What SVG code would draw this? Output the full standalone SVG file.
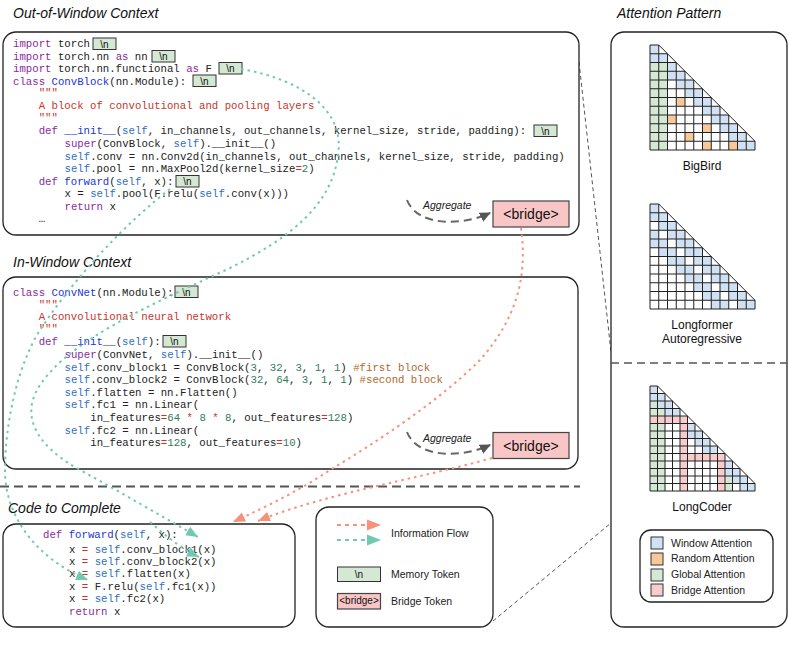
<svg xmlns="http://www.w3.org/2000/svg" xmlns:xlink="http://www.w3.org/1999/xlink" width="789" height="645" viewBox="0 0 789 645">
<style>
.c{font-family:"Liberation Mono",monospace;font-size:10.7px;fill:#222}
.k{fill:#8a2a9c}.f{fill:#2035d8}.s{fill:#2f6fc0}.t{fill:#c8342c}.n{fill:#2e7d5a}.m{fill:#b0682c}.o{fill:#c8342c}
.ttl{font-family:"Liberation Sans",Arial,sans-serif;font-style:italic;font-size:14px;fill:#111}
.lab{font-family:"Liberation Sans",Arial,sans-serif;font-size:12px;fill:#111}
.sm{font-family:"Liberation Sans",Arial,sans-serif;font-size:10.5px;fill:#222}
.box{fill:#fff;stroke:#222;stroke-width:1.3}
.tok{fill:#d5e8d4;stroke:#333;stroke-width:1}
.tokt{font-family:"Liberation Sans",Arial,sans-serif;font-size:10px;fill:#111;text-anchor:middle}
.br{fill:#f8c6c6;stroke:#444;stroke-width:1.2}
.brt{font-family:"Liberation Sans",Arial,sans-serif;font-size:14px;fill:#111;text-anchor:middle}
.agg{fill:none;stroke:#666;stroke-width:2;stroke-dasharray:8 5}
.tl{fill:none;stroke:#72c9b0;stroke-width:2;stroke-dasharray:2.5 4}
.sl{fill:none;stroke:#f7917b;stroke-width:2;stroke-dasharray:2.5 4}
.gl{fill:none;stroke:#222;vector-effect:non-scaling-stroke;stroke-width:1}
.cb{fill:#d0e1f4}.co{fill:#f9c898}.cg{fill:#d5e8d4}.cp{fill:#f8cccc}
</style>
<defs>
<marker id="at" markerUnits="userSpaceOnUse" markerWidth="13" markerHeight="11" refX="12" refY="5" orient="auto"><path d="M0,0 L12,5 L0,10 z" fill="#72c9b0"/></marker>
<marker id="as" markerUnits="userSpaceOnUse" markerWidth="13" markerHeight="11" refX="12" refY="5" orient="auto"><path d="M0,0 L12,5 L0,10 z" fill="#f7917b"/></marker>
<marker id="ag" markerUnits="userSpaceOnUse" markerWidth="12" markerHeight="10" refX="10" refY="5" orient="auto"><path d="M0,0 L11,5 L0,10 z" fill="#555"/></marker>
<path id="g12" class="gl" d="M0 0H1M0 1H2M0 2H3M0 3H4M0 4H5M0 5H6M0 6H7M0 7H8M0 8H9M0 9H10M0 10H11M0 11H12M0 12H12M0 0V12M1 0V12M2 1V12M3 2V12M4 3V12M5 4V12M6 5V12M7 6V12M8 7V12M9 8V12M10 9V12M11 10V12M12 11V12M1 0L12 11"/>
<path id="g14" class="gl" d="M0 0H1M0 1H2M0 2H3M0 3H4M0 4H5M0 5H6M0 6H7M0 7H8M0 8H9M0 9H10M0 10H11M0 11H12M0 12H13M0 13H14M0 14H14M0 0V14M1 0V14M2 1V14M3 2V14M4 3V14M5 4V14M6 5V14M7 6V14M8 7V14M9 8V14M10 9V14M11 10V14M12 11V14M13 12V14M14 13V14M1 0L14 13"/>
</defs>
<rect width="789" height="645" fill="#fff"/>

<!-- titles -->
<text class="ttl" x="13" y="18">Out-of-Window Context</text>
<text class="ttl" x="13" y="267">In-Window Context</text>
<text class="ttl" x="8" y="513">Code to Complete</text>
<text class="ttl" x="617" y="18">Attention Pattern</text>

<!-- separators -->
<path d="M0 486.5H580" fill="none" stroke="#555" stroke-width="2" stroke-dasharray="9 5"/>
<path d="M579 62L611 352" fill="none" stroke="#555" stroke-width="1" stroke-dasharray="4 3"/>
<path d="M493 621L611 523" fill="none" stroke="#555" stroke-width="1" stroke-dasharray="4 3"/>

<g id="out-window">
<rect class="box" x="3" y="32" width="576" height="203" rx="13"/>
<text class="c" x="13" y="47"><tspan class="k">import</tspan> torch</text>
<text class="c" x="13" y="59.5"><tspan class="k">import</tspan> torch.nn <tspan class="k">as</tspan> nn</text>
<text class="c" x="13" y="72"><tspan class="k">import</tspan> torch.nn.functional <tspan class="k">as</tspan> F</text>
<text class="c" x="13" y="84.5"><tspan class="k">class</tspan> <tspan class="f">ConvBlock</tspan>(nn.Module):</text>
<text class="c t" x="38.7" y="96">"""</text>
<text class="c t" x="38.7" y="108.5">A block of convolutional and pooling layers</text>
<text class="c t" x="38.7" y="120.5">"""</text>
<text class="c" x="38.7" y="133.5"><tspan class="k">def</tspan> <tspan class="f">__init__</tspan>(<tspan class="s">self</tspan>, in_channels, out_channels, kernel_size, stride, padding):</text>
<text class="c" x="64.5" y="147"><tspan class="k">super</tspan>(ConvBlock, <tspan class="s">self</tspan>).__init__()</text>
<text class="c" x="64.5" y="159.5"><tspan class="s">self</tspan>.conv = nn.Conv2d(in_channels, out_channels, kernel_size, stride, padding)</text>
<text class="c" x="64.5" y="171.5"><tspan class="s">self</tspan>.pool = nn.MaxPool2d(kernel_size<tspan class="o">=</tspan><tspan class="n">2</tspan>)</text>
<text class="c" x="38.7" y="184.5"><tspan class="k">def</tspan> <tspan class="f">forward</tspan>(<tspan class="s">self</tspan>, x):</text>
<text class="c" x="64.5" y="197"><tspan>x = </tspan><tspan class="s">self</tspan>.pool(F.relu(<tspan class="s">self</tspan>.conv(x)))</text>
<text class="c" x="64.5" y="209.5"><tspan class="k">return</tspan> x</text>
<text class="c" x="38.7" y="222">…</text>
<rect class="tok" x="93" y="38" width="23" height="11.5"/><text class="tokt" x="104.5" y="47.5">\n</text>
<rect class="tok" x="152" y="50.5" width="23" height="11.5"/><text class="tokt" x="163.5" y="60">\n</text>
<rect class="tok" x="219" y="62.5" width="23" height="11.5"/><text class="tokt" x="230.5" y="72">\n</text>
<rect class="tok" x="193" y="75" width="23" height="11.5"/><text class="tokt" x="204.5" y="84.5">\n</text>
<rect class="tok" x="534" y="125" width="23" height="11.5"/><text class="tokt" x="545.5" y="134.5">\n</text>
<rect class="tok" x="176" y="175.5" width="23" height="11.5"/><text class="tokt" x="187.5" y="185">\n</text>
<rect class="br" x="493" y="201" width="76" height="26"/><text class="brt" x="531" y="219">&lt;bridge&gt;</text>
<text class="sm" x="423" y="209" font-style="italic" font-size="11">Aggregate</text>
</g>

<g id="in-window">
<rect class="box" x="3" y="277" width="575" height="192" rx="13"/>
<text class="c" x="13" y="295.5"><tspan class="k">class</tspan> <tspan class="f">ConvNet</tspan>(nn.Module):</text>
<text class="c t" x="38.7" y="307.5">"""</text>
<text class="c t" x="38.7" y="319.5">A convolutional neural network</text>
<text class="c t" x="38.7" y="331.5">"""</text>
<text class="c" x="38.7" y="344.5"><tspan class="k">def</tspan> <tspan class="f">__init__</tspan>(<tspan class="s">self</tspan>):</text>
<text class="c" x="64.5" y="357.5"><tspan class="k">super</tspan>(ConvNet, <tspan class="s">self</tspan>).__init__()</text>
<text class="c" x="64.5" y="370.5"><tspan class="s">self</tspan>.conv_block1 = ConvBlock(<tspan class="n">3</tspan>, <tspan class="n">32</tspan>, <tspan class="n">3</tspan>, <tspan class="n">1</tspan>, <tspan class="n">1</tspan>) <tspan class="m">#first block</tspan></text>
<text class="c" x="64.5" y="383"><tspan class="s">self</tspan>.conv_block2 = ConvBlock(<tspan class="n">32</tspan>, <tspan class="n">64</tspan>, <tspan class="n">3</tspan>, <tspan class="n">1</tspan>, <tspan class="n">1</tspan>) <tspan class="m">#second block</tspan></text>
<text class="c" x="64.5" y="396"><tspan class="s">self</tspan>.flatten = nn.Flatten()</text>
<text class="c" x="64.5" y="408"><tspan class="s">self</tspan>.fc1 = nn.Linear(</text>
<text class="c" x="90.3" y="420.5">in_features<tspan class="o">=</tspan><tspan class="n">64</tspan> <tspan class="o">*</tspan> <tspan class="n">8</tspan> <tspan class="o">*</tspan> <tspan class="n">8</tspan>, out_features<tspan class="o">=</tspan><tspan class="n">128</tspan>)</text>
<text class="c" x="64.5" y="433.5"><tspan class="s">self</tspan>.fc2 = nn.Linear(</text>
<text class="c" x="90.3" y="445.5">in_features<tspan class="o">=</tspan><tspan class="n">128</tspan>, out_features<tspan class="o">=</tspan><tspan class="n">10</tspan>)</text>
<rect class="tok" x="175" y="286" width="23" height="11.5"/><text class="tokt" x="186.5" y="295.5">\n</text>
<rect class="tok" x="163" y="335.5" width="23" height="11.5"/><text class="tokt" x="174.5" y="345">\n</text>
<rect class="br" x="493" y="432.5" width="76" height="26"/><text class="brt" x="531" y="450.5">&lt;bridge&gt;</text>
<text class="sm" x="423" y="441.5" font-style="italic" font-size="11">Aggregate</text>
</g>

<g id="to-complete">
<rect class="box" x="3" y="524" width="292" height="103" rx="13"/>
<text class="c" x="43" y="538"><tspan class="k">def</tspan> <tspan class="f">forward</tspan>(<tspan class="s">self</tspan>, x):</text>
<text class="c" x="69" y="552.5">x <tspan class="o">=</tspan> <tspan class="s">self</tspan>.conv_block1(x)</text>
<text class="c" x="69" y="564.5">x <tspan class="o">=</tspan> <tspan class="s">self</tspan>.conv_block2(x)</text>
<text class="c" x="69" y="576.5">x <tspan class="o">=</tspan> <tspan class="s">self</tspan>.flatten(x)</text>
<text class="c" x="69" y="589.5">x <tspan class="o">=</tspan> F.relu(<tspan class="s">self</tspan>.fc1(x))</text>
<text class="c" x="69" y="602">x <tspan class="o">=</tspan> <tspan class="s">self</tspan>.fc2(x)</text>
<text class="c" x="69" y="614.5"><tspan class="k">return</tspan> x</text>
</g>

<g id="legend">
<rect class="box" x="316" y="507" width="177" height="120" rx="13"/>
<path d="M337 525H368" fill="none" stroke="#f7917b" stroke-width="2" stroke-dasharray="4 4"/>
<path d="M367 519.5L381 525L367 530.5z" fill="#f7917b"/>
<path d="M337 540H368" fill="none" stroke="#72c9b0" stroke-width="2" stroke-dasharray="4 4"/>
<path d="M367 534.5L381 540L367 545.5z" fill="#72c9b0"/>
<text class="sm" x="391" y="537">Information Flow</text>
<rect class="tok" x="337.5" y="567" width="43" height="14.5"/><text class="tokt" x="359" y="578">\n</text>
<text class="sm" x="391" y="578">Memory Token</text>
<rect class="br" x="337.5" y="593.5" width="43" height="15.5"/><text class="tokt" x="359" y="604" font-size="7.5">&lt;bridge&gt;</text>
<text class="sm" x="391" y="605">Bridge Token</text>
</g>

<g id="connectors">
<path class="agg" d="M407 200C418 228 465 225 490 213" marker-end="url(#ag)"/>
<path class="agg" d="M407 432C418 460 465 457 490 445" marker-end="url(#ag)"/>
<path class="tl" d="M241 69C305 80 345 112 338 155C332 205 290 238 230 268C150 305 70 340 40 385C20 415 35 445 80 470C120 492 160 515 198 537" marker-end="url(#at)"/>
<path class="tl" d="M170 189C130 220 80 270 40 330C15 370 5 430 5 470C5 520 40 560 88 580" marker-end="url(#at)"/>
<path class="tl" d="M150 522C165 535 180 548 199 557" marker-end="url(#at)"/>
<path class="sl" d="M521 228C528 280 515 320 480 360C440 400 380 440 330 470C300 490 270 505 233 522" marker-end="url(#as)"/>
<path class="sl" d="M492 458C450 470 400 480 340 495C310 503 285 510 258 521" marker-end="url(#as)"/>
</g>

<g id="attention-panel">
<rect class="box" x="611" y="32" width="176" height="595" rx="13"/>
<path d="M611 363H787" fill="none" stroke="#555" stroke-width="1.5" stroke-dasharray="8 5"/>
<text class="lab" x="702" y="170" text-anchor="middle">BigBird</text>
<text class="lab" x="702" y="329" text-anchor="middle">Longformer</text>
<text class="lab" x="702" y="343" text-anchor="middle">Autoregressive</text>
<text class="lab" x="702" y="511" text-anchor="middle">LongCoder</text>
</g>

<g id="bigbird" transform="translate(650 45) scale(8.75)">
<path d="M0 0H1L12 11V12H0Z" fill="#fff"/>
<rect class="cb" x="0" y="0" width="1" height="1"/><rect class="cb" x="0" y="1" width="1" height="1"/><rect class="cb" x="1" y="1" width="1" height="1"/>
<rect class="cg" x="0" y="2" width="2" height="10"/>
<rect class="cb" x="2" y="2" width="1" height="2"/><rect class="cb" x="3" y="3" width="1" height="2"/><rect class="cb" x="4" y="4" width="1" height="2"/><rect class="cb" x="5" y="5" width="1" height="2"/><rect class="cb" x="6" y="6" width="1" height="2"/><rect class="cb" x="7" y="7" width="1" height="2"/><rect class="cb" x="8" y="8" width="1" height="2"/><rect class="cb" x="9" y="9" width="1" height="2"/><rect class="cb" x="10" y="10" width="1" height="2"/><rect class="cb" x="11" y="11" width="1" height="1"/>
<rect class="co" x="3" y="6" width="1" height="1"/><rect class="co" x="2" y="8" width="1" height="1"/><rect class="co" x="6" y="9" width="1" height="1"/><rect class="co" x="4" y="10" width="1" height="1"/><rect class="co" x="6" y="11" width="1" height="1"/><rect class="co" x="9" y="11" width="1" height="1"/>
<use xlink:href="#g12"/>
</g>

<g id="longformer" transform="translate(650 204) scale(8.75)">
<path d="M0 0H1L12 11V12H0Z" fill="#fff"/>
<rect class="cb" x="0" y="0" width="1" height="2"/><rect class="cb" x="1" y="1" width="1" height="2"/><rect class="cb" x="2" y="2" width="1" height="2"/><rect class="cb" x="3" y="3" width="1" height="2"/><rect class="cb" x="4" y="4" width="1" height="2"/><rect class="cb" x="5" y="5" width="1" height="2"/><rect class="cb" x="6" y="6" width="1" height="2"/><rect class="cb" x="7" y="7" width="1" height="2"/><rect class="cb" x="8" y="8" width="1" height="2"/><rect class="cb" x="9" y="9" width="1" height="2"/><rect class="cb" x="10" y="10" width="1" height="2"/><rect class="cb" x="11" y="11" width="1" height="1"/>
<rect class="cb" x="0" y="3" width="1" height="2"/><rect class="cb" x="1" y="4" width="1" height="2"/><rect class="cb" x="2" y="5" width="1" height="2"/><rect class="cb" x="3" y="6" width="1" height="2"/><rect class="cb" x="4" y="7" width="1" height="2"/><rect class="cb" x="5" y="8" width="1" height="2"/><rect class="cb" x="6" y="9" width="1" height="2"/><rect class="cb" x="7" y="10" width="1" height="2"/><rect class="cb" x="8" y="11" width="1" height="1"/>
<use xlink:href="#g12"/>
</g>

<g id="longcoder" transform="translate(650 386) scale(7.5)">
<path d="M0 0H1L14 13V14H0Z" fill="#fff"/>
<rect class="cb" x="0" y="0" width="1" height="2"/><rect class="cb" x="1" y="1" width="1" height="2"/><rect class="cb" x="2" y="2" width="1" height="2"/><rect class="cb" x="3" y="3" width="1" height="1"/>
<rect class="cg" x="0" y="2" width="1" height="2"/><rect class="cg" x="1" y="3" width="1" height="1"/>
<rect class="cp" x="0" y="4" width="5" height="1"/>
<rect class="cg" x="0" y="5" width="2" height="9"/>
<rect class="cp" x="4" y="5" width="1" height="9"/>
<rect class="cb" x="5" y="5" width="1" height="2"/><rect class="cb" x="6" y="6" width="1" height="2"/><rect class="cb" x="7" y="7" width="1" height="2"/><rect class="cb" x="8" y="8" width="1" height="1"/>
<rect class="cp" x="5" y="9" width="5" height="1"/>
<rect class="cp" x="9" y="10" width="1" height="4"/>
<rect class="cb" x="10" y="10" width="1" height="2"/><rect class="cb" x="11" y="11" width="1" height="1"/>
<rect class="cg" x="10" y="12" width="1" height="2"/>
<rect class="cb" x="11" y="12" width="1" height="1"/><rect class="cb" x="12" y="12" width="1" height="2"/><rect class="cb" x="13" y="13" width="1" height="1"/>
<use xlink:href="#g14"/>
</g>

<g id="attn-legend">
<rect class="box" x="640" y="530" width="133" height="72" rx="11"/>
<rect class="cb" x="651" y="537" width="12" height="12" stroke="#333"/>
<rect class="co" x="651" y="553" width="12" height="12" stroke="#333"/>
<rect class="cg" x="651" y="569" width="12" height="12" stroke="#333"/>
<rect class="cp" x="651" y="584" width="12" height="12" stroke="#333"/>
<text class="sm" x="671" y="546.5">Window Attention</text>
<text class="sm" x="671" y="562">Random Attention</text>
<text class="sm" x="671" y="578">Global Attention</text>
<text class="sm" x="671" y="593.5">Bridge Attention</text>
</g>
</svg>
